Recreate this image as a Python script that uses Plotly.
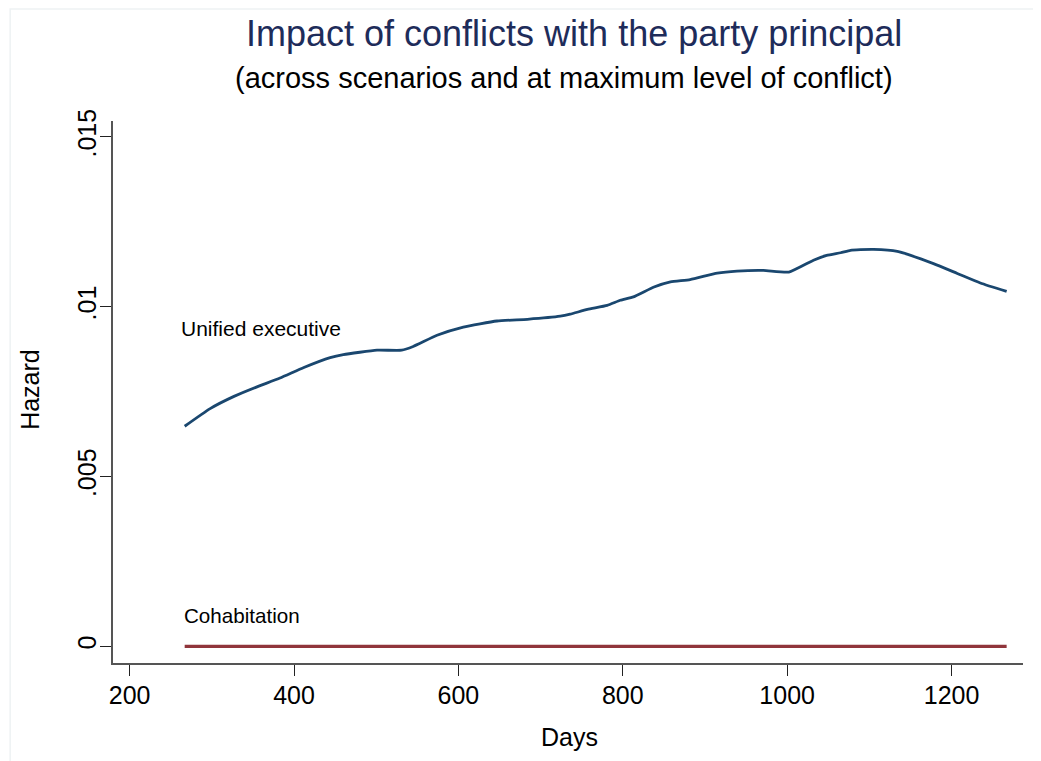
import plotly.graph_objects as go

# Data
days_unified = [267, 298, 327, 355, 383, 412, 444, 460, 501, 531, 545, 574, 606, 647,
                684, 724, 736, 757, 781, 797, 813, 838, 858, 882, 915, 939, 971, 1002,
                1032, 1048, 1065, 1077, 1089, 1105, 1134, 1178, 1207, 1235, 1267]
hazard_unified = [0.00648, 0.00700, 0.00736, 0.00764, 0.00790, 0.00821, 0.00850, 0.00859,
                  0.00872, 0.00872, 0.00883, 0.00916, 0.00940, 0.00958, 0.00963, 0.00972,
                  0.00978, 0.00992, 0.01004, 0.01019, 0.01029, 0.01058, 0.01073, 0.01080,
                  0.01099, 0.01105, 0.01107, 0.01102, 0.01137, 0.01151, 0.01159, 0.01166,
                  0.01168, 0.01169, 0.01163, 0.01127, 0.01098, 0.01070, 0.01045]
days_cohab = [267, 400, 600, 800, 1000, 1200, 1267]
hazard_cohab = [0.0, 0.0, 0.0, 0.0, 0.0, 0.0, 0.0]

x_ticks = [200, 400, 600, 800, 1000, 1200]
y_ticks = [0, 0.005, 0.01, 0.015]
y_ticklabels = ["0", ".005", ".01", ".015"]

title_text = "Impact of conflicts with the party principal"
subtitle_text = "(across scenarios and at maximum level of conflict)"
label_unified = "Unified executive"
label_cohab = "Cohabitation"
x_title = "Days"
y_title = "Hazard"

FONT = "Liberation Sans, Arial, Helvetica, sans-serif"

fig = go.Figure()
fig.add_trace(go.Scatter(x=days_cohab, y=hazard_cohab, mode="lines",
                         line=dict(color="#90353b", width=3.2), showlegend=False))
fig.add_trace(go.Scatter(x=days_unified, y=hazard_unified, mode="lines",
                         line=dict(color="#1a476f", width=2.8, shape="spline", smoothing=0.5),
                         showlegend=False))

fig.add_annotation(x=260.5, y=0.00937, xref="x", yref="y", text=label_unified,
                   showarrow=False, xanchor="left", yanchor="middle",
                   font=dict(family=FONT, size=21, color="#000000"))
fig.add_annotation(x=263.5, y=0.00091, xref="x", yref="y", text=label_cohab,
                   showarrow=False, xanchor="left", yanchor="middle",
                   font=dict(family=FONT, size=20.6, color="#000000"))

fig.add_annotation(x=0.507, y=1.162, xref="paper", yref="paper", text=title_text,
                   showarrow=False, xanchor="center", yanchor="middle",
                   font=dict(family=FONT, size=36, color="#1e2c5a"))
fig.add_annotation(x=0.496, y=1.079, xref="paper", yref="paper", text=subtitle_text,
                   showarrow=False, xanchor="center", yanchor="middle",
                   font=dict(family=FONT, size=29, color="#000000"))

fig.add_annotation(x=0.502, y=-0.1365, xref="paper", yref="paper", text=x_title,
                   showarrow=False, xanchor="center", yanchor="middle",
                   font=dict(family=FONT, size=25, color="#000000"))
fig.add_annotation(x=-0.0912, y=0.504, xref="paper", yref="paper", text=y_title,
                   showarrow=False, xanchor="center", yanchor="middle", textangle=-90,
                   font=dict(family=FONT, size=25, color="#000000"))

# light outer frame
fig.add_shape(type="rect", xref="paper", yref="paper",
              x0=-0.113, x1=1.2, y0=-0.5, y1=1.2066,
              line=dict(color="#eef2f4", width=1.5), layer="below")

fig.update_layout(
    width=1041, height=761,
    margin=dict(l=105, r=26, t=113, b=106),
    paper_bgcolor="white", plot_bgcolor="white",
    font=dict(family=FONT, color="#000000"),
    xaxis=dict(range=[179.8, 1286.9], tickvals=x_ticks, ticks="outside", ticklen=11,
               tickwidth=1.2, tickcolor="#222", showline=True, linecolor="#555",
               linewidth=2, showgrid=False, zeroline=False,
               tickfont=dict(size=25, family=FONT), ticklabelstandoff=-2),
    yaxis=dict(range=[-0.000492, 0.01547], tickvals=y_ticks, ticktext=y_ticklabels,
               ticks="outside", ticklen=11, tickwidth=1.2, tickcolor="#222",
               showline=True, linecolor="#555", linewidth=2, showgrid=False,
               zeroline=False, tickangle=-90, ticklabelstandoff=-6,
               tickfont=dict(size=25, family=FONT)),
)

fig.write_html("out.html")
